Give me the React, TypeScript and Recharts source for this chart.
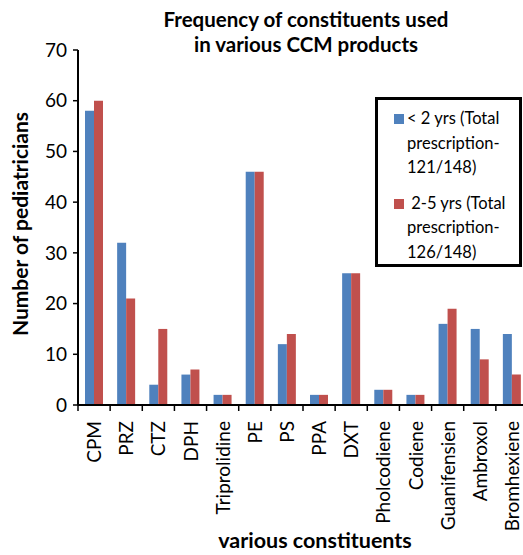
import React from 'react';
import { BarChart, Bar, XAxis, YAxis, Customized } from 'recharts';

const constituents = [
  'CPM', 'PRZ', 'CTZ', 'DPH', 'Triprolidine', 'PE', 'PS', 'PPA', 'DXT',
  'Pholcodiene', 'Codiene', 'Guanifensien', 'Ambroxol', 'Bromhexiene'
];
const underTwo = [58, 32, 4, 6, 2, 46, 12, 2, 26, 3, 2, 16, 15, 14];
const twoToFive = [60, 21, 15, 7, 2, 46, 14, 2, 26, 3, 2, 19, 9, 6];
const yTicks = [0, 10, 20, 30, 40, 50, 60, 70];
const legendUnderTwo = ['< 2 yrs (Total', 'prescription-', '121/148)'];
const legendTwoToFive = [' 2-5 yrs (Total', 'prescription-', '126/148)'];

const rows = constituents.map((name, i) => ({
  name,
  under2: underTwo[i],
  twoTo5: twoToFive[i]
}));

const FONT = 'Lato, "Noto Sans", sans-serif';
const BLUE = '#4F81BD';
const RED = '#C0504D';

const CHART_W = 540;
const CHART_H = 555;
const MARGIN = { top: 50, right: 12, left: 0, bottom: 0 };
const Y_W = 78;
const X_H = 150;
const BAND = (CHART_W - MARGIN.left - MARGIN.right - Y_W) / constituents.length;

function XTick(props: any) {
  const { x, y, payload, index } = props;
  const left = x - BAND / 2;
  return (
    <g>
      <line x1={left} y1={y} x2={left} y2={y + 6} stroke="#000" strokeWidth={1.5} />
      {index === constituents.length - 1 && (
        <line x1={left + BAND} y1={y} x2={left + BAND} y2={y + 6} stroke="#000" strokeWidth={1.5} />
      )}
      <text
        x={0}
        y={0}
        transform={`translate(${x + 7},${y + 16}) rotate(-90)`}
        textAnchor="end"
        fontFamily={FONT}
        fontSize={19}
        fill="#000"
      >
        {payload.value}
      </text>
    </g>
  );
}

function LegendBox() {
  const items = [
    { color: BLUE, lines: legendUnderTwo },
    { color: RED, lines: legendTwoToFive }
  ];
  return (
    <div
      style={{
        position: 'absolute',
        left: 375,
        top: 97,
        width: 141,
        height: 158,
        border: '3px solid #000',
        background: '#fff',
        fontFamily: FONT,
        fontSize: 16.5,
        lineHeight: '24.5px',
        color: '#000',
        paddingTop: 6
      }}
    >
      {items.map((it, i) => (
        <div key={i} style={{ position: 'relative', paddingLeft: 29, marginBottom: i === 0 ? 11 : 0, whiteSpace: 'pre' }}>
          <span
            style={{
              position: 'absolute',
              left: 16,
              top: 8,
              width: 10,
              height: 10,
              background: it.color
            }}
          />
          {it.lines.map((l, j) => (
            <div key={j}>{l}</div>
          ))}
        </div>
      ))}
    </div>
  );
}

function AxisTitles() {
  return (
    <g fontFamily={FONT} fontWeight="bold" fill="#000">
      <text x={306} y={27} textAnchor="middle" fontSize={20.5}>Frequency of constituents used</text>
      <text x={306} y={52} textAnchor="middle" fontSize={20.5}>in various CCM products</text>
      <text x={315} y={548} textAnchor="middle" fontSize={21.5}>various constituents</text>
      <text transform="translate(28,224) rotate(-90)" textAnchor="middle" fontSize={21}>Number of pediatricians</text>
    </g>
  );
}

export default function App() {
  return (
    <div style={{ position: 'absolute', left: 0, top: 0, width: 523, height: 555, overflow: 'hidden', background: '#fff' }}>
      <BarChart width={CHART_W} height={CHART_H} data={rows} margin={MARGIN} barGap={0} barSize={9}>
        <XAxis
          dataKey="name"
          interval={0}
          height={X_H}
          tick={<XTick />}
          tickLine={false}
          tickSize={0}
          tickMargin={0}
          axisLine={{ stroke: '#000', strokeWidth: 2 }}
        />
        <YAxis
          width={Y_W}
          domain={[0, 70]}
          ticks={yTicks}
          interval={0}
          tickSize={5}
          tickMargin={6}
          tickLine={{ stroke: '#000', strokeWidth: 1.5 }}
          axisLine={{ stroke: '#000', strokeWidth: 2 }}
          tick={{ fill: '#000', fontSize: 19, fontFamily: FONT }}
        />
        <Bar dataKey="under2" name="< 2 yrs (Total prescription-121/148)" fill={BLUE} isAnimationActive={false} />
        <Bar dataKey="twoTo5" name="2-5 yrs (Total prescription-126/148)" fill={RED} isAnimationActive={false} />
        <Customized component={AxisTitles} />
      </BarChart>
      <LegendBox />
    </div>
  );
}
